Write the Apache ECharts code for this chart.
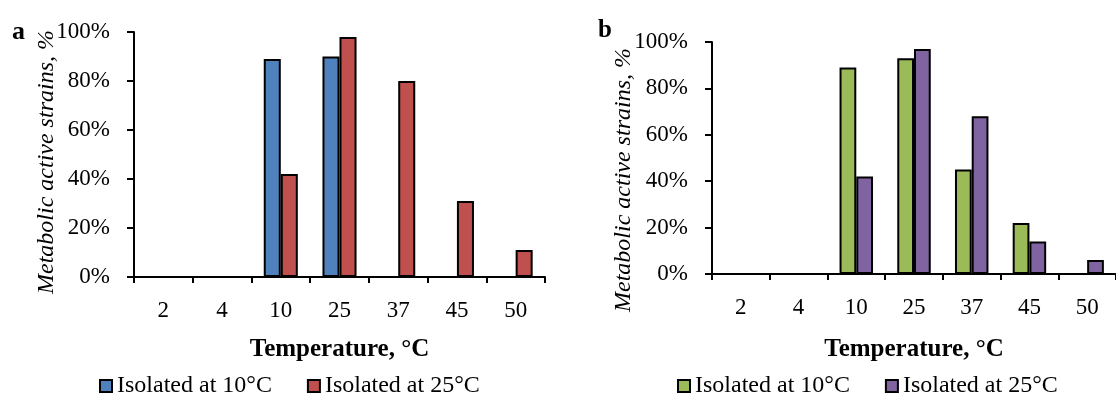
<!DOCTYPE html>
<html>
<head>
<meta charset="utf-8">
<script src="https://cdn.jsdelivr.net/npm/echarts@6/dist/echarts.min.js"></script>
<style>
  html, body { margin: 0; padding: 0; background: #fff; }
  #chart { width: 1116px; height: 397px; }
</style>
</head>
<body>
<div id="chart"></div>
<script>
// temperatures on the x axis
const temps = ['2', '4', '10', '25', '37', '45', '50'];
// panel a
const aIso10 = [0, 0, 89, 90, 0, 0, 0];
const aIso25 = [0, 0, 42, 98, 80, 31, 11];
// panel b
const bIso10 = [0, 0, 89, 93, 45, 22, 0];
const bIso25 = [0, 0, 42, 97, 68, 14, 6];
const yTicks = [0, 20, 40, 60, 80, 100];

const font = 'Liberation Serif';
const yTitle = 'Metabolic active strains, %';

function xAxis(idx) {
    return {
        type: 'category',
        gridIndex: idx,
        data: temps,
        name: 'Temperature, °C',
        nameLocation: 'middle',
        nameGap: idx === 0 ? 60 : 63,
        nameTextStyle: { fontFamily: font, fontSize: 25, fontWeight: 'bold', color: '#000' },
        axisLine: { lineStyle: { color: '#000', width: 2 } },
        axisTick: { show: true, length: 6, lineStyle: { color: '#000', width: 2 } },
        axisLabel: { fontFamily: font, fontSize: 23, color: '#000', margin: 22 }
    };
}

function yAxis(idx) {
    return {
        type: 'value',
        gridIndex: idx,
        min: yTicks[0],
        max: yTicks[yTicks.length - 1],
        interval: 20,
        axisLine: { show: true, lineStyle: { color: '#000', width: 2 } },
        axisTick: { show: true, length: 7, lineStyle: { color: '#000', width: 2 } },
        splitLine: { show: false },
        axisLabel: { fontFamily: font, fontSize: 23, color: '#000', margin: 24, formatter: '{value}%' }
    };
}

function bars(name, data, color, idx) {
    return {
        type: 'bar',
        name: name,
        data: data,
        xAxisIndex: idx,
        yAxisIndex: idx,
        barGap: '0%',
        barCategoryGap: '42%',
        itemStyle: { color: color, borderColor: '#000', borderWidth: 2 }
    };
}

const legendText = { fontFamily: font, fontSize: 24, color: '#000', lineHeight: 24 };

const chart = echarts.init(document.getElementById('chart'), null, { renderer: 'canvas' });
chart.setOption({
    animation: false,
    backgroundColor: '#fff',
    grid: [
        { left: 134, top: 32, width: 411, height: 245 },
        { left: 712, top: 42, width: 411, height: 232 }
    ],
    xAxis: [xAxis(0), xAxis(1)],
    yAxis: [yAxis(0), yAxis(1)],
    legend: [
        {
            data: ['a10', 'a25'],
            left: 94, top: 369,
            itemWidth: 12, itemHeight: 12, itemGap: 35,
            icon: 'rect',
            formatter: n => n === 'a10' ? 'Isolated at 10°C' : 'Isolated at 25°C',
            textStyle: legendText
        },
        {
            data: ['b10', 'b25'],
            left: 672, top: 369,
            itemWidth: 12, itemHeight: 12, itemGap: 35,
            icon: 'rect',
            formatter: n => n === 'b10' ? 'Isolated at 10°C' : 'Isolated at 25°C',
            textStyle: legendText
        }
    ],
    series: [
        bars('a10', aIso10, '#4F81BD', 0),
        bars('a25', aIso25, '#C0504D', 0),
        bars('b10', bIso10, '#9BBB59', 1),
        bars('b25', bIso25, '#8064A2', 1)
    ],
    graphic: [
        { type: 'text', left: 12, top: 19, style: { text: 'a', font: 'bold 26px "Liberation Serif"', fill: '#000' } },
        { type: 'text', left: 598, top: 18, style: { text: 'b', font: 'bold 25px "Liberation Serif"', fill: '#000' } },
        { type: 'text', x: 47, y: 162, rotation: Math.PI / 2,
          style: { text: yTitle, font: 'italic 24px "Liberation Serif"', fill: '#000', align: 'center', verticalAlign: 'middle' } },
        { type: 'text', x: 624, y: 180, rotation: Math.PI / 2,
          style: { text: yTitle, font: 'italic 24px "Liberation Serif"', fill: '#000', align: 'center', verticalAlign: 'middle' } }
    ]
});
</script>
</body>
</html>
